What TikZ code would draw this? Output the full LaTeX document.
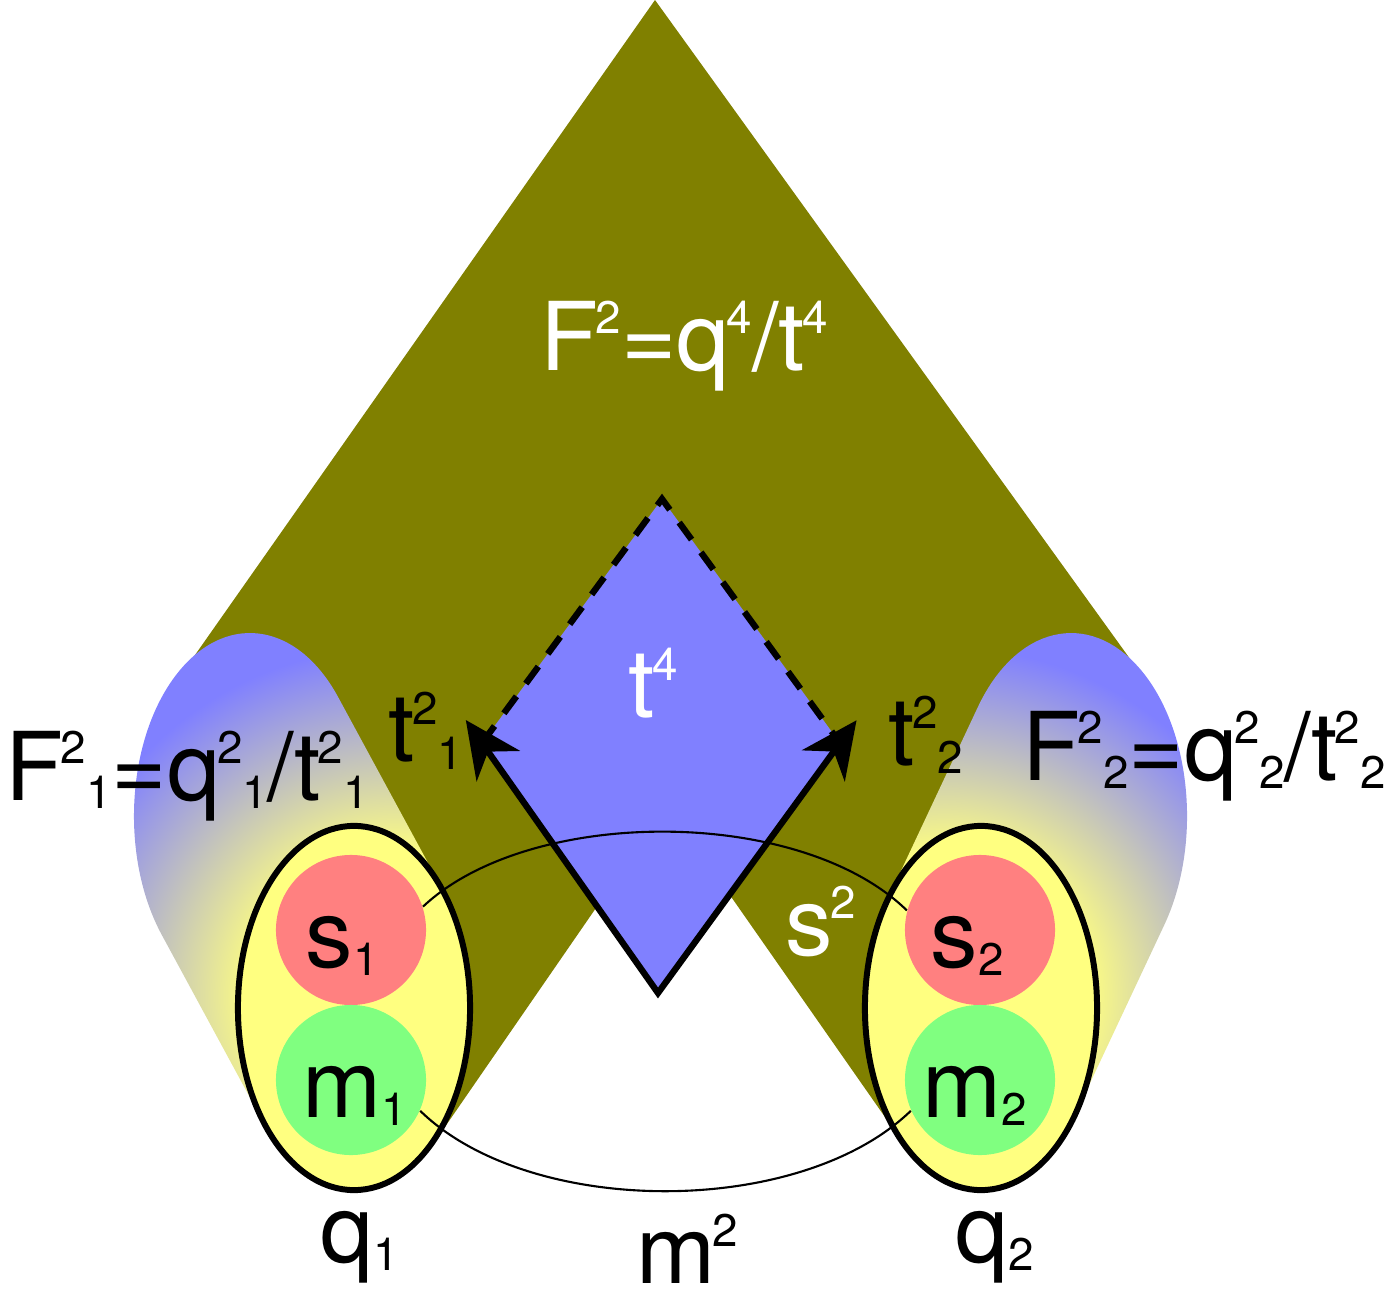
\documentclass[tikz,border=0pt]{standalone}
\usepackage{fontspec}
\setmainfont{TeX Gyre Heros}
\usetikzlibrary{arrows.meta,shapes.geometric}
\definecolor{olivebg}{RGB}{128,128,0}
\definecolor{diamblue}{RGB}{128,128,255}
\definecolor{bagyellow}{RGB}{255,255,128}
\definecolor{sred}{RGB}{255,128,128}
\definecolor{mgreen}{RGB}{128,255,128}
\pgfdeclareradialshading{capfade}{\pgfpoint{0bp}{0bp}}{color(0bp)=(bagyellow); color(6bp)=(bagyellow); color(15bp)=(diamblue); color(50bp)=(diamblue)}
\newcommand{\supr}[1]{\kern-0.03em\raisebox{0.38em}{\fontsize{13}{13}\selectfont #1}}
\newcommand{\subr}[1]{\raisebox{-0.09em}{\fontsize{13}{13}\selectfont #1}}
\begin{document}
\begin{tikzpicture}[x=0.01cm,y=-0.01cm,>={Stealth[length=16pt,width=15pt,inset=5pt]},
  lbl/.style={font=\fontsize{27}{29}\selectfont, inner sep=0pt, anchor=base west},
  ball/.style={circle, minimum size=1.5cm, inner sep=0pt},
  bag/.style={ellipse, draw, line width=1.7pt, fill=bagyellow, minimum width=2.32cm, minimum height=3.64cm, inner sep=0pt},
  edge/.style={line width=1.8pt}]
  \useasboundingbox (0,0) rectangle (1384,1309);
  % chevron
  \fill[olivebg] (655,0) -- (188,665) -- (429,1150) -- (667,805) -- (908,1150) -- (1133,663) -- cycle;
  % capsules
  \begin{scope}
    \clip (161.9,935.1) arc[start angle=139.4, end angle=319.4, x radius=116, y radius=183]
      -- (442.1,888.9) arc[start angle=-40.6, end angle=139.4, x radius=116, y radius=183] -- cycle;
    \shade[shading=capfade] (395,995) circle[radius=580];
  \end{scope}
  \begin{scope}
    \clip (977.8,707.2) arc[start angle=216.5, end angle=396.5, x radius=116, y radius=183]
      -- (1074.2,1116.8) arc[start angle=36.5, end angle=216.5, x radius=116, y radius=183] -- cycle;
    \shade[shading=capfade] (945,995) circle[radius=580];
  \end{scope}
  % bags and balls
  \node[bag] (q1) at (354,1008) {};
  \node[bag] (q2) at (981,1008) {};
  \node[ball, fill=sred] (s1) at (351,930) {};
  \node[ball, fill=mgreen] (m1) at (351,1080) {};
  \node[ball, fill=sred] (s2) at (980,930) {};
  \node[ball, fill=mgreen] (m2) at (980,1080) {};
  % diamond
  \coordinate (dtop) at (662,499);
  \coordinate (dleft) at (482,743);
  \coordinate (dright) at (840,743);
  \coordinate (dbot) at (658,993);
  \fill[diamblue] (dtop) -- (dright) -- (dbot) -- (dleft) -- cycle;
  \draw[edge, dash pattern=on 6pt off 4.5pt] (dleft) -- (dtop) -- (dright);
  \draw[edge, <->, shorten <=-8pt, shorten >=-8pt] (dleft) -- (dbot) -- (dright);
  % links
  \draw[line width=0.6pt] (s1.18) .. controls (530,806) and (800,806) .. (s2.165);
  \draw[line width=0.6pt] (m1.-24) .. controls (530,1218) and (800,1218) .. (m2.204);
  % labels
  \node[lbl, white] (ftot) at (540,370) {F\supr{2}=q\supr{4}/t\supr{4}};
  \node[lbl] (fone) at (5,800) {F\supr{2}\subr{1}=q\supr{2}\subr{1}/t\supr{2}\subr{1}};
  \node[lbl] (ftwo) at (1022,780) {F\supr{2}\subr{2}=q\supr{2}\subr{2}/t\supr{2}\subr{2}};
  \node[lbl] (tone) at (388,761) {t\supr{2}\subr{1}};
  \node[lbl] (ttwo) at (888,765) {t\supr{2}\subr{2}};
  \node[lbl, white] (tfour) at (628,717) {t\supr{4}};
  \node[lbl, white] (ssq) at (785,955) {s\supr{2}};
  \node[lbl] (sone) at (305,967) {s\subr{1}};
  \node[lbl] (mone) at (302,1117) {m\subr{1}};
  \node[lbl] (stwo) at (930,967) {s\subr{2}};
  \node[lbl] (mtwo) at (922,1117) {m\subr{2}};
  \node[lbl] (qone) at (320,1262) {q\subr{1}};
  \node[lbl] (msq) at (636,1283) {m\supr{2}};
  \node[lbl] (qtwo) at (955,1262) {q\subr{2}};
\end{tikzpicture}
\end{document}
